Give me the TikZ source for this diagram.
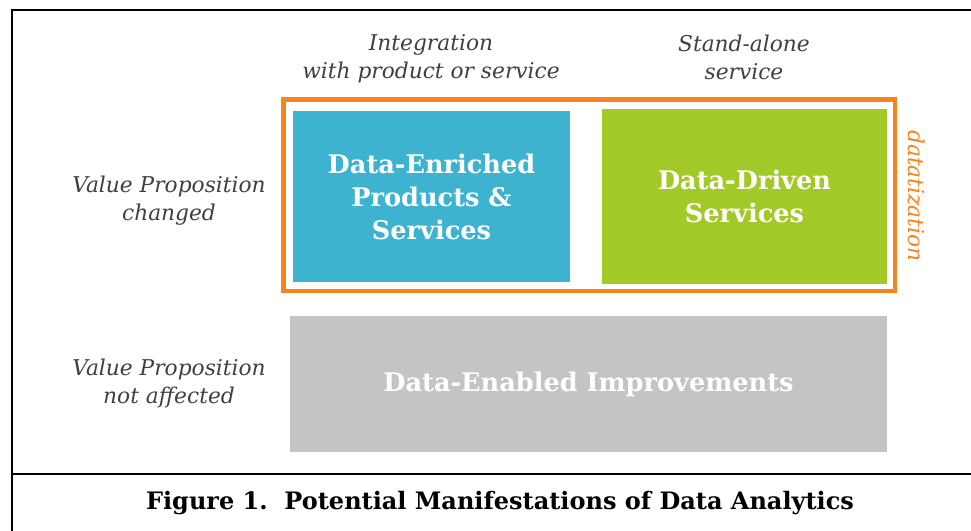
\documentclass[tikz,border=0pt]{standalone}
\usepackage{fontspec}
\setmainfont{DejaVu Serif}
\usetikzlibrary{positioning}

\definecolor{enrichblue}{HTML}{3EB3CF}
\definecolor{drivengreen}{HTML}{A2C928}
\definecolor{enablegray}{HTML}{C4C4C4}
\definecolor{datorange}{HTML}{F7821E}
\definecolor{labelgray}{HTML}{404040}

\begin{document}
\begin{tikzpicture}[x=0.75pt,y=-0.75pt,
  box/.style={inner sep=0pt,text=white,align=center,font=\fontsize{19.2}{24.75}\selectfont\bfseries},
  lbl/.style={inner sep=0pt,align=center,text=labelgray,font=\fontsize{16.3}{21}\selectfont\itshape}]
\useasboundingbox (0,0) rectangle (971,531);

% outer frame and caption rule
\draw[line width=1.5pt] (975,10) -- (12,10) -- (12,535);
\draw[line width=1.5pt] (12,473.5) -- (975,473.5);

% the three manifestations
\node[box,fill=enrichblue,minimum width=207.75pt,minimum height=128.25pt] (enriched) at (431.5,196.5) {Data-Enriched\\Products \&\\Services};
\node[box,fill=drivengreen,minimum width=213.75pt,minimum height=131.25pt] (driven) at (744.5,196.5) {Data-Driven\\Services};
\node[box,fill=enablegray,minimum width=447.75pt,minimum height=102pt] (enabled) at (588.5,384) {Data-Enabled Improvements};

% datatization frame round the upper row
\node[draw=datorange,line width=3.6pt,minimum width=458.6pt,minimum height=143.6pt] (datframe) at (589.25,195.25) {};
\node[lbl,text=datorange,rotate=-90] (datlabel) at (916,196) {datatization};

% column and row headings
\node[lbl] (integ) at (431,59) {Integration\\with product or service};
\node[lbl] (standalone) at (744,57.5) {Stand-alone\\service};
\node[lbl] (changed) at (169,201) {Value Proposition\\changed};
\node[lbl] (notaff) at (169,383.5) {Value Proposition\\not affected};

\node[font=\fontsize{18}{21}\selectfont\bfseries] (caption) at (500,503) {Figure 1.\ \ Potential Manifestations of Data Analytics};
\end{tikzpicture}
\end{document}
